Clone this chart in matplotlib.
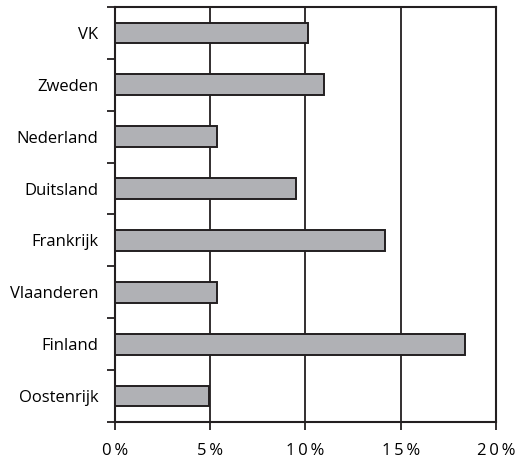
import matplotlib.pyplot as plt
from matplotlib.ticker import FixedLocator

countries = ["VK", "Zweden", "Nederland", "Duitsland", "Frankrijk",
             "Vlaanderen", "Finland", "Oostenrijk"]
values = [10.15, 10.95, 5.35, 9.5, 14.2, 5.35, 18.35, 4.95]
x_ticks = [0, 5, 10, 15, 20]
x_labels = ["0%", "5%", "10%", "15%", "20%"]

line_col = "#231f20"
bar_col = "#b0b1b5"

plt.rcParams["font.family"] = ["Open Sans", "DejaVu Sans"]

fig = plt.figure(figsize=(5.21, 4.65), dpi=100)
ax = fig.add_axes([0.2207, 0.0925, 0.952 - 0.2207, 0.985 - 0.0925])

pos = list(range(len(countries)))
ax.barh(pos, values, height=0.4, color=bar_col, edgecolor=line_col,
        linewidth=1.4, zorder=3)

ax.set_xlim(0, 20)
ax.set_ylim(len(countries) - 0.5, -0.5)

# gridlines at 5, 10, 15
for v in x_ticks[1:-1]:
    ax.axvline(v, color=line_col, linewidth=1.3, zorder=1)

# wide letter spacing as in the original
spaced = ["\u2009".join(lab) for lab in x_labels]
ax.set_xticks(x_ticks)
ax.set_xticklabels(spaced, fontsize=12)
ax.set_yticks(pos)
ax.set_yticklabels(countries, fontsize=12)
ax.tick_params(axis="y", which="major", length=0, pad=12)
ax.yaxis.set_minor_locator(FixedLocator([p - 0.5 for p in range(len(countries) + 1)]))
ax.tick_params(axis="y", which="minor", length=6, width=1.3, color=line_col, direction="out")
ax.tick_params(axis="x", length=6, width=1.3, color=line_col, direction="out", pad=9)

for s in ax.spines.values():
    s.set_color(line_col)
    s.set_linewidth(1.5)

fig.savefig("out.png", dpi=100)
